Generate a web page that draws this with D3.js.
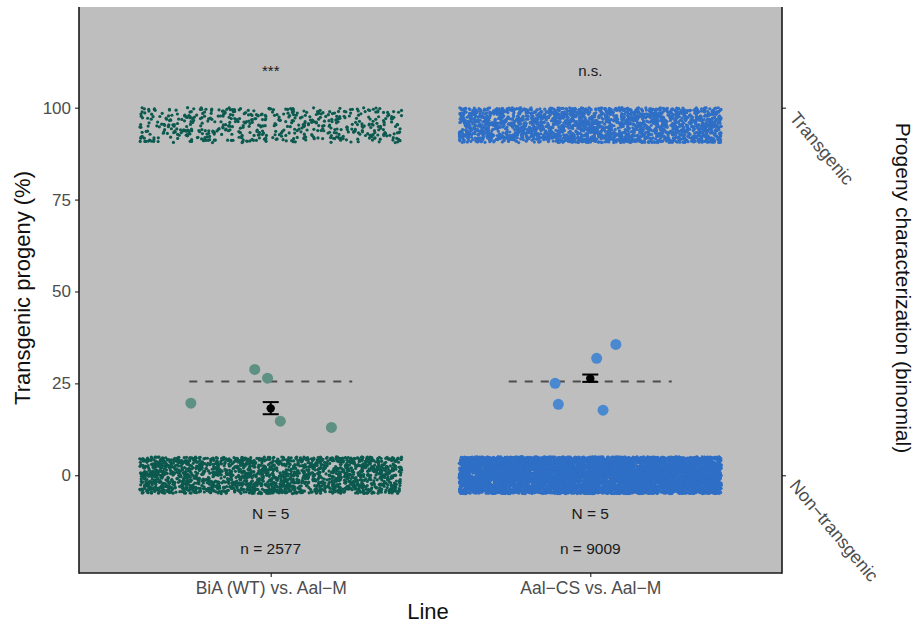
<!DOCTYPE html>
<html>
<head>
<meta charset="utf-8">
<script src="https://cdn.jsdelivr.net/npm/d3@7"></script>
<style>
  html, body { margin: 0; padding: 0; background: #ffffff; }
  svg { display: block; }
  text { font-family: "Liberation Sans", Arial, Helvetica, sans-serif; }
</style>
</head>
<body>
<svg id="chart" width="918" height="628"></svg>
<script>
// ---------------- DATA ----------------
const lines = ["BiA (WT) vs. Aal\u2212M", "Aal\u2212CS vs. Aal\u2212M"];
const transgenicCounts = [560, 2340];        // progeny scored transgenic (value 100)
const nonTransgenicCounts = [2017, 6669];    // progeny scored non-transgenic (value 0)
const replicatePercents = [
  [19.6, 28.8, 26.4, 14.7, 13.0],
  [25.0, 19.3, 31.8, 35.6, 17.7]
];
const replicateOffsets = [
  [-0.25, -0.05, -0.01, 0.03, 0.19],
  [-0.11, -0.10, 0.02, 0.08, 0.04]
];
const meanPercents = [18.2, 26.3];
const seLow = [16.6, 25.4];
const seHigh = [19.9, 27.4];
const expectedPercent = 25.5;
const significance = ["***", "n.s."];
const nReplicates = [5, 5];
const nProgeny = [2577, 9009];
const yTicks = [0, 25, 50, 75, 100];
const binaryLevels = [0, 100];
const binaryLabels = ["Non\u2212transgenic", "Transgenic"];

// ---------------- STYLE ----------------
const cloudColors = ["#0c5a4f", "#2f6fc6"];
const repColors = ["#5e9183", "#4a88cf"];
const pLeft = 79, pRight = 782, pTop = 7, pBottom = 573;

const svg = d3.select("#chart");

const x = d3.scaleLinear().domain([0.4, 2.6]).range([pLeft, pRight]);
const y = d3.scaleLinear().domain([-26.6, 127.4]).range([pBottom, pTop]);

// panel
svg.append("rect").attr("x", pLeft).attr("y", pTop)
  .attr("width", pRight - pLeft).attr("height", pBottom - pTop)
  .attr("fill", "#bebebe");

// deterministic jitter generator (visual displacement only)
function mulberry32(a) {
  return function() {
    a |= 0; a = a + 0x6D2B79F5 | 0;
    let t = Math.imul(a ^ a >>> 15, 1 | a);
    t = t + Math.imul(t ^ t >>> 7, 61 | t) ^ t;
    return ((t ^ t >>> 14) >>> 0) / 4294967296;
  };
}
const rnd = mulberry32(20240611);

const cloud = svg.append("g");
lines.forEach((ln, i) => {
  const pts = [];
  for (let k = 0; k < nonTransgenicCounts[i]; k++) {
    pts.push({ xv: i + 1 + (rnd() - 0.5) * 0.82, yv: binaryLevels[0] + (rnd() - 0.5) * 10 });
  }
  for (let k = 0; k < transgenicCounts[i]; k++) {
    pts.push({ xv: i + 1 + (rnd() - 0.5) * 0.82, yv: binaryLevels[1] - rnd() * 9.5 });
  }
  cloud.selectAll(null).data(pts).enter().append("circle")
    .attr("cx", d => x(d.xv)).attr("cy", d => y(d.yv))
    .attr("r", 1.6).attr("fill", cloudColors[i]);
});

// expected dashed lines
lines.forEach((ln, i) => {
  svg.append("line")
    .attr("x1", x(i + 1 - 0.255)).attr("x2", x(i + 1 + 0.255))
    .attr("y1", y(expectedPercent)).attr("y2", y(expectedPercent))
    .attr("stroke", "#4d4d4d").attr("stroke-width", 1.8)
    .attr("stroke-dasharray", "8,8");
});

// replicate points
lines.forEach((ln, i) => {
  svg.selectAll(null).data(replicatePercents[i]).enter().append("circle")
    .attr("cx", (d, j) => x(i + 1 + replicateOffsets[i][j]))
    .attr("cy", d => y(d))
    .attr("r", 5.5).attr("fill", repColors[i]);
});

// mean + error bars
lines.forEach((ln, i) => {
  const cx = x(i + 1), hw = 8;
  const g = svg.append("g").attr("stroke", "#000").attr("stroke-width", 2);
  g.append("line").attr("x1", cx).attr("x2", cx).attr("y1", y(seLow[i])).attr("y2", y(seHigh[i]));
  g.append("line").attr("x1", cx - hw).attr("x2", cx + hw).attr("y1", y(seLow[i])).attr("y2", y(seLow[i]));
  g.append("line").attr("x1", cx - hw).attr("x2", cx + hw).attr("y1", y(seHigh[i])).attr("y2", y(seHigh[i]));
  svg.append("circle").attr("cx", cx).attr("cy", y(meanPercents[i])).attr("r", 4.2).attr("fill", "#000");
});

// annotations
lines.forEach((ln, i) => {
  svg.append("text").attr("x", x(i + 1)).attr("y", 76)
    .attr("text-anchor", "middle").attr("font-size", 15).attr("fill", "#1a1a1a")
    .text(significance[i]);
  svg.append("text").attr("x", x(i + 1)).attr("y", y(-10.3) + 5.5)
    .attr("text-anchor", "middle").attr("font-size", 15.5).attr("fill", "#1a1a1a")
    .text("N = " + nReplicates[i]);
  svg.append("text").attr("x", x(i + 1)).attr("y", y(-19.9) + 5.5)
    .attr("text-anchor", "middle").attr("font-size", 15.5).attr("fill", "#1a1a1a")
    .text("n = " + nProgeny[i]);
});

// left axis
const yAxis = d3.axisLeft(y).tickValues(yTicks).tickSize(4).tickPadding(4);
const gy = svg.append("g").attr("transform", `translate(${pLeft},0)`).call(yAxis);
gy.select(".domain").remove();
gy.selectAll(".tick line").attr("stroke", "#333").attr("stroke-width", 1.2);
gy.selectAll(".tick text").attr("font-size", 17).attr("fill", "#4d4d4d")
  .attr("font-family", "Liberation Sans, Arial, sans-serif");

// bottom axis
const xAxis = d3.axisBottom(x).tickValues([1, 2]).tickFormat((d) => lines[d - 1]).tickSize(4).tickPadding(5);
const gx = svg.append("g").attr("transform", `translate(0,${pBottom})`).call(xAxis);
gx.select(".domain").remove();
gx.selectAll(".tick line").attr("stroke", "#333").attr("stroke-width", 1.2);
gx.selectAll(".tick text").attr("font-size", 17.5).attr("fill", "#4d4d4d")
  .attr("font-family", "Liberation Sans, Arial, sans-serif");

// right axis
const yRight = d3.axisRight(y).tickValues(binaryLevels).tickFormat(() => "").tickSize(4);
const gr = svg.append("g").attr("transform", `translate(${pRight},0)`).call(yRight);
gr.select(".domain").remove();
gr.selectAll(".tick line").attr("stroke", "#333").attr("stroke-width", 1.2);
binaryLevels.forEach((v, i) => {
  svg.append("text")
    .attr("transform", `translate(${pRight + 17},${y(v) + 2}) rotate(50)`)
    .attr("dy", "0.75em")
    .attr("font-size", 18).attr("fill", "#4d4d4d")
    .text(binaryLabels[i]);
});

// axis lines
const axisStroke = "#1a1a1a";
svg.append("line").attr("x1", pLeft).attr("x2", pLeft).attr("y1", pTop).attr("y2", pBottom + 0.75)
  .attr("stroke", axisStroke).attr("stroke-width", 1.6);
svg.append("line").attr("x1", pRight).attr("x2", pRight).attr("y1", pTop).attr("y2", pBottom + 0.75)
  .attr("stroke", axisStroke).attr("stroke-width", 1.6);
svg.append("line").attr("x1", pLeft).attr("x2", pRight).attr("y1", pBottom).attr("y2", pBottom)
  .attr("stroke", axisStroke).attr("stroke-width", 1.6);

// titles
svg.append("text").attr("transform", `translate(30,288) rotate(-90)`)
  .attr("text-anchor", "middle").attr("font-size", 22).attr("fill", "#111")
  .text("Transgenic progeny (%)");
svg.append("text").attr("x", 428).attr("y", 619)
  .attr("text-anchor", "middle").attr("font-size", 22).attr("fill", "#111")
  .text("Line");
svg.append("text").attr("transform", `translate(896,288) rotate(90)`)
  .attr("text-anchor", "middle").attr("font-size", 21).attr("fill", "#111")
  .text("Progeny characterization (binomial)");
</script>
</body>
</html>
